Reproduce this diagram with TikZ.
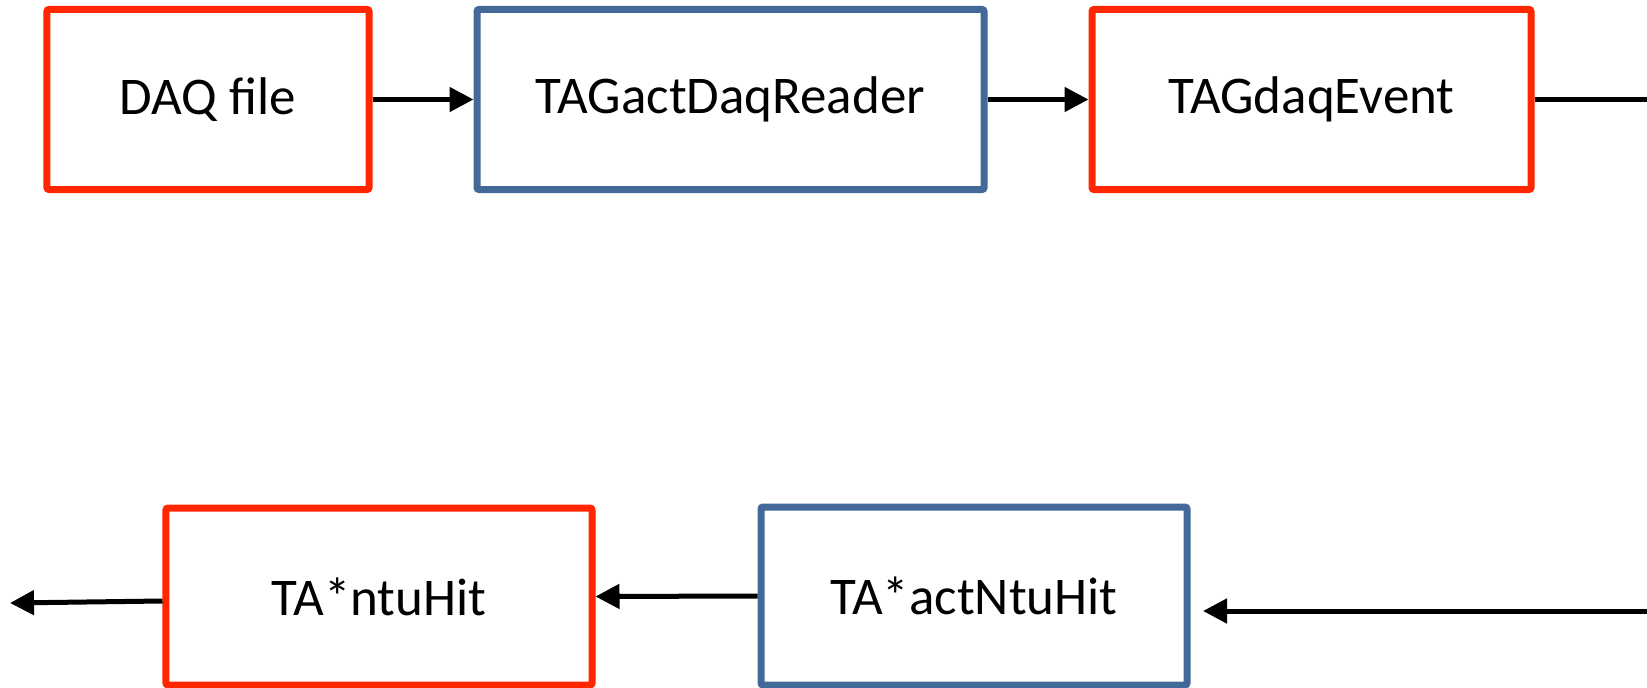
\documentclass[tikz,border=0pt]{standalone}
\usepackage{fontspec}
\setmainfont{Carlito}
\usetikzlibrary{arrows.meta}
\definecolor{boxred}{RGB}{255,38,0}
\definecolor{boxblue}{RGB}{66,105,152}
\tikzset{
  databox/.style={draw=boxred, line width=7bp, rounded corners=2bp, inner sep=0pt,
    font=\fontsize{53bp}{62bp}\selectfont, text=black},
  procbox/.style={draw=boxblue, line width=7bp, rounded corners=2bp, inner sep=0pt,
    font=\fontsize{53bp}{62bp}\selectfont, text=black},
  flow/.style={line width=5bp, -{Triangle[length=24bp,width=24bp]}},
  plainline/.style={line width=5bp}
}
\begin{document}
\begin{tikzpicture}[x=1bp,y=-1bp]
\useasboundingbox[fill=white] (0,0) rectangle (1647,688);
% top row
\node[databox, minimum width=322bp, minimum height=180bp] (daq) at (208,99.5) {DAQ file};
\node[procbox, minimum width=507bp, minimum height=180bp] (reader) at (730.5,99.5) {TAGactDaqReader};
\node[databox, minimum width=439bp, minimum height=180bp] (event) at (1311.5,99.5) {TAGdaqEvent};
% bottom row
\node[databox, minimum width=426bp, minimum height=177bp] (ntu) at (379,596.5) {TA*ntuHit};
\node[procbox, minimum width=426bp, minimum height=178bp] (act) at (974,596) {TA*actNtuHit};
% free ends
\coordinate (r1) at (1647,99.5);
\coordinate (r2) at (1647,611);
\coordinate (lft) at (10,603);
% connectors
\draw[flow] (daq.east) -- (reader.west);
\draw[flow] (reader.east) -- (event.west);
\draw[plainline] (event.east) -- (r1);
\draw[flow, shorten >=12.5bp] (r2) -- (act.east |- r2);
\draw[flow] (act.west) -- (ntu.east);
\draw[flow] ([yshift=-4.5bp]ntu.west) -- (lft);
\end{tikzpicture}
\end{document}
